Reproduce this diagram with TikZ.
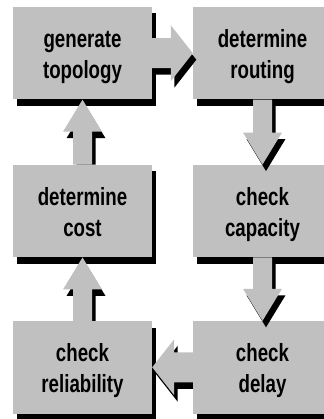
\documentclass[tikz,border=0pt]{standalone}
\usepackage{fontspec}
\setmainfont{Liberation Sans}
\usetikzlibrary{calc}

\definecolor{boxgray}{RGB}{192,192,192}

% two-line stage caption, set in a tall, narrow face
\newcommand{\stagecaption}[2]{%
  \scalebox{1}[1.33]{\begin{tabular}{@{}c@{}}#1\\#2\end{tabular}}}

\tikzset{
  stage/.style={rectangle, fill=boxgray, minimum width=139pt,
    minimum height=92.5pt, inner sep=0pt},
  stagelabel/.style={inner sep=0pt,
    font=\bfseries\fontsize{18.7}{23.5}\selectfont},
  arrowbody/.style={fill=boxgray},
  arrowshade/.style={fill=black},
  offset shade/.style={transform canvas={xshift=3.5pt, yshift=-6.5pt}}
}

\begin{document}
\begin{tikzpicture}[x=1pt, y=-1pt]
  \useasboundingbox (0,0) rectangle (323,419);
  \fill[white] (0,0) rectangle (323,419);

  % centres of the six stages
  \coordinate (topo-c)  at (82.5,53.25);
  \coordinate (route-c) at (262.5,53.25);
  \coordinate (cost-c)  at (82.5,211);
  \coordinate (cap-c)   at (262.5,211);
  \coordinate (rel-c)   at (82.5,367.25);
  \coordinate (delay-c) at (262.5,367.25);

  % hard black drop shadows behind the stages
  \foreach \s in {topo-c,route-c,cost-c,cap-c,rel-c,delay-c}
    \fill[arrowshade] ($(\s)+(-66,-39.75)$) rectangle ($(\s)+(73,52.75)$);

  % process stages
  \node[stage] (topo)  at (topo-c)  {};
  \node[stage] (route) at (route-c) {};
  \node[stage] (cost)  at (cost-c)  {};
  \node[stage] (cap)   at (cap-c)   {};
  \node[stage] (rel)   at (rel-c)   {};
  \node[stage] (delay) at (delay-c) {};

  \node[stagelabel] (topo-t)  at ($(topo)+(0,3.5)$)  {\stagecaption{generate}{topology}};
  \node[stagelabel] (route-t) at ($(route)+(0,3.5)$) {\stagecaption{determine}{routing}};
  \node[stagelabel] (cost-t)  at ($(cost)+(0,3.5)$)  {\stagecaption{determine}{cost}};
  \node[stagelabel] (cap-t)   at ($(cap)+(0,3.5)$)   {\stagecaption{check}{capacity}};
  \node[stagelabel] (rel-t)   at ($(rel)+(0,3.5)$)   {\stagecaption{check}{reliability}};
  \node[stagelabel] (delay-t) at ($(delay)+(0,3.5)$) {\stagecaption{check}{delay}};

  % right arrow: topology -> routing
  \fill[arrowshade, offset shade]
    ($(topo.east)+(0,-15)$) -- ($(route.west)+(-22,-15)$) -- ($(route.west)+(-22,-28)$)
    -- (route.west) -- ($(route.west)+(-22,28)$) -- ($(route.west)+(-22,15)$)
    -- ($(topo.east)+(0,15)$) -- cycle;
  \fill[arrowbody]
    ($(topo.east)+(0,-15)$) -- ($(route.west)+(-22,-15)$) -- ($(route.west)+(-22,-28)$)
    -- (route.west) -- ($(route.west)+(-22,28)$) -- ($(route.west)+(-22,15)$)
    -- ($(topo.east)+(0,15)$) -- cycle;

  % down arrow: routing -> capacity
  \fill[arrowshade, offset shade]
    ($(route.south)+(-9.5,0)$) -- ($(cap.north)+(-9.5,-32)$) -- ($(cap.north)+(-19.5,-32)$)
    -- (cap.north) -- ($(cap.north)+(19.5,-32)$) -- ($(cap.north)+(9.5,-32)$)
    -- ($(route.south)+(9.5,0)$) -- cycle;
  \fill[arrowbody]
    ($(route.south)+(-9.5,0)$) -- ($(cap.north)+(-9.5,-32)$) -- ($(cap.north)+(-19.5,-32)$)
    -- (cap.north) -- ($(cap.north)+(19.5,-32)$) -- ($(cap.north)+(9.5,-32)$)
    -- ($(route.south)+(9.5,0)$) -- cycle;

  % down arrow: capacity -> delay
  \fill[arrowshade, offset shade]
    ($(cap.south)+(-9.5,0)$) -- ($(delay.north)+(-9.5,-32)$) -- ($(delay.north)+(-19.5,-32)$)
    -- (delay.north) -- ($(delay.north)+(19.5,-32)$) -- ($(delay.north)+(9.5,-32)$)
    -- ($(cap.south)+(9.5,0)$) -- cycle;
  \fill[arrowbody]
    ($(cap.south)+(-9.5,0)$) -- ($(delay.north)+(-9.5,-32)$) -- ($(delay.north)+(-19.5,-32)$)
    -- (delay.north) -- ($(delay.north)+(19.5,-32)$) -- ($(delay.north)+(9.5,-32)$)
    -- ($(cap.south)+(9.5,0)$) -- cycle;

  % left arrow: delay -> reliability (shade starts at the source edge)
  \fill[arrowshade]
    ($(delay.west)+(0,-8.5)$) -- ($(rel.east)+(25.5,-8.5)$) -- ($(rel.east)+(25.5,-21.5)$)
    -- ($(rel.east)+(3.5,6.5)$) -- ($(rel.east)+(25.5,34.5)$) -- ($(rel.east)+(25.5,21.5)$)
    -- ($(delay.west)+(0,21.5)$) -- cycle;
  \fill[arrowbody]
    ($(delay.west)+(0,-15)$) -- ($(rel.east)+(22,-15)$) -- ($(rel.east)+(22,-28)$)
    -- (rel.east) -- ($(rel.east)+(22,28)$) -- ($(rel.east)+(22,15)$)
    -- ($(delay.west)+(0,15)$) -- cycle;

  % up arrow: reliability -> cost
  \fill[arrowshade]
    ($(rel.north)+(-6,0)$) -- ($(cost.south)+(-6,38.5)$) -- ($(cost.south)+(-16,38.5)$)
    -- ($(cost.south)+(3.5,6.5)$) -- ($(cost.south)+(23,38.5)$) -- ($(cost.south)+(13,38.5)$)
    -- ($(rel.north)+(13,0)$) -- cycle;
  \fill[arrowbody]
    ($(rel.north)+(-9.5,0)$) -- ($(cost.south)+(-9.5,32)$) -- ($(cost.south)+(-19.5,32)$)
    -- (cost.south) -- ($(cost.south)+(19.5,32)$) -- ($(cost.south)+(9.5,32)$)
    -- ($(rel.north)+(9.5,0)$) -- cycle;

  % up arrow: cost -> topology
  \fill[arrowshade]
    ($(cost.north)+(-6,0)$) -- ($(topo.south)+(-6,38.5)$) -- ($(topo.south)+(-16,38.5)$)
    -- ($(topo.south)+(3.5,6.5)$) -- ($(topo.south)+(23,38.5)$) -- ($(topo.south)+(13,38.5)$)
    -- ($(cost.north)+(13,0)$) -- cycle;
  \fill[arrowbody]
    ($(cost.north)+(-9.5,0)$) -- ($(topo.south)+(-9.5,32)$) -- ($(topo.south)+(-19.5,32)$)
    -- (topo.south) -- ($(topo.south)+(19.5,32)$) -- ($(topo.south)+(9.5,32)$)
    -- ($(cost.north)+(9.5,0)$) -- cycle;
\end{tikzpicture}
\end{document}
